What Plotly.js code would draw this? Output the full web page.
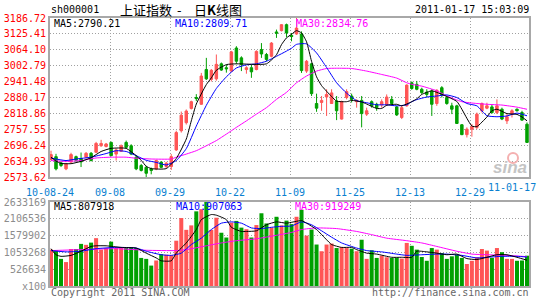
<!DOCTYPE html>
<html><head><meta charset="utf-8">
<script src="https://cdn.plot.ly/plotly-3.0.1.min.js"></script>
<style>html,body{margin:0;padding:0;background:#fff}#chart{width:545px;height:300px}</style>
</head><body><div id="chart"></div><script>
// ---- data (SSE Composite, daily, 2010-08-24 .. 2011-01-17) ----
const openP  = [2641,2652,2628,2605,2631,2652,2645,2650,2665,2669,2694,2691,2707,2662,2673,2707,2694,2650,2618,2611,2605,2605,2631,2614,2614,2678,2752,2783,2838,2880,2854,2988,2950,2952,3010,2995,2982,3071,3033,2988,2995,2988,3065,3046,3039,3133,3138,3161,3120,3125,3125,2982,3010,2857,2861,2882,2857,2867,2797,2880,2886,2864,2869,2816,2864,2854,2852,2852,2873,2844,2803,2848,2937,2931,2912,2901,2905,2857,2918,2880,2848,2848,2775,2737,2758,2765,2829,2839,2844,2822,2835,2790,2816,2835,2822,2777];
const highP  = [2675,2663,2634,2628,2667,2656,2668,2670,2670,2709,2717,2705,2710,2684,2699,2714,2700,2657,2624,2617,2610,2640,2634,2632,2662,2752,2826,2834,2868,2893,2975,3033,2990,3046,3015,3007,3060,3078,3039,3001,3007,3062,3090,3052,3094,3142,3163,3165,3129,3186.72,3135,3025,3014,2895,2886,2912,2912,2886,2868,2912,2895,2873,2886,2841,2869,2860,2873,2892,2886,2848,2848,2931,2942,2944,2918,2912,2912,2912,2924,2886,2860,2852,2778,2765,2778,2822,2861,2860,2852,2873,2841,2816,2835,2838,2829,2784];
const lowP   = [2637,2599,2612,2600,2628,2631,2612,2645,2634,2666,2690,2688,2654,2637,2670,2684,2658,2600,2595,2573.62,2584,2600,2608,2608,2601,2674,2745,2776,2834,2866,2852,2948,2942,2945,2983,2976,2979,3010,2982,2972,2956,2985,3033,3020,3035,3110,3135,3112,3097,3122,2975,2975,2886,2825,2829,2809,2855,2793,2795,2873,2861,2841,2765,2809,2841,2829,2841,2848,2848,2809,2797,2845,2910,2908,2894,2880,2809,2848,2880,2852,2816,2778,2735,2726,2729,2758,2822,2835,2818,2816,2793,2778,2803,2826,2790,2705];
const closeP = [2660,2605,2618,2624,2660,2638,2632,2665,2637,2703,2703,2701,2656,2678,2694,2688,2662,2605,2599,2588,2599,2637,2611,2627,2652,2745,2812,2828,2864,2876,2963,2952,2985,3008,2986,2991,3056,3020,3007,2995,2979,3058,3048,3027,3090,3128,3161,3129,3115,3148,2984,3020,2895,2839,2869,2892,2898,2829,2864,2903,2873,2869,2818,2829,2848,2841,2864,2882,2857,2813,2841,2928,2915,2912,2899,2892,2854,2908,2892,2857,2835,2780,2737,2758,2767,2816,2857,2848,2822,2848,2797,2806,2829,2829,2793,2707];
const volume = [1140000,1110000,850000,750000,1160000,1160000,1320000,1290000,1360000,1500000,1140000,1190000,1390000,1190000,1210000,1190000,1210000,1190000,880000,850000,640000,800000,1000000,980000,960000,1420000,2130000,1760000,1900000,2340000,2410000,2633169,1755000,2140000,1670000,1520000,1985000,2040000,1830000,1780000,1520000,1910000,2280000,1960000,1830000,2170000,1900000,2050000,1940000,2170000,2390000,1580000,1770000,1300000,1090000,1300000,1330000,1190000,1220000,1190000,1170000,1090000,1450000,850000,1120000,880000,950000,900000,880000,880000,860000,1350000,1260000,1140000,910000,790000,1190000,1140000,1030000,850000,930000,980000,880000,690000,790000,900000,1160000,1110000,880000,1190000,1060000,850000,850000,790000,800000,950000];

// moving averages at sample days (day index, value)
const ma5Day  = [0,1,2,4,6,8,10,12,15,17,18,19,20,23,25,27,28,29,31,32,33,35,37,43,45,46,47,48,49,50,51,52,53,54,56,57,59,60,62,63,65,66,67,69,70,72,73,74,76,77,79,81,82,83,84,85,87,88,89,91,93,94,95];
const ma5     = [2650,2635,2626,2625,2634,2648,2672,2684,2684,2656,2638,2615,2606,2606,2645,2720,2790,2855,2930,2956,2985,3007,3010,3010,3045,3084,3110,3124,3138,3129,3095,3020,2960,2926,2884,2866,2864,2869,2863,2855,2838,2838,2850,2854,2848,2864,2875,2892,2906,2900,2884,2865,2835,2800,2770,2768,2805,2829,2835,2818,2815,2805,2790.21];
const ma10Day = [0,1,3,5,8,11,13,15,17,19,21,23,25,27,29,31,33,35,37,39,41,43,45,47,48,49,51,53,55,57,59,61,63,65,67,69,71,72,73,75,77,79,81,83,85,87,89,91,93,95];
const ma10    = [2647,2643,2637,2643,2650,2664,2675,2672,2656,2638,2630,2620,2637,2683,2770,2850,2915,2960,2994,3006,3010,3020,3039,3059,3070,3085,3087,3052,2996,2937,2897,2868,2860,2852,2852,2848,2852,2864,2872,2882,2886,2890,2880,2857,2848,2810,2806,2809,2820,2809.71];
const ma30Day = [0,3,6,9,12,15,17,20,24,25,27,29,31,33,35,37,39,41,43,45,47,49,51,53,55,57,60,63,66,69,71,72,74,77,79,82,85,87,90,93,95];
const ma30    = [2637,2634,2637,2647,2650,2650,2646,2643,2643,2650,2662,2675,2694,2714,2739,2765,2790,2816,2841,2873,2900,2937,2963,2982,2992,2993,2992,2982,2969,2955,2937,2931,2924,2906,2886,2864,2857,2854,2851,2843,2834.76];

const vma5Day  = [0,1,2,4,6,8,9,11,14,17,19,21,22,24,25,27,29,30,32,33,35,36,38,39,41,43,45,47,50,51,53,55,56,58,60,61,63,65,68,70,72,73,75,77,79,81,83,85,87,89,91,93,95];
const vma5     = [1170000,980000,930000,960000,1090000,1240000,1260000,1260000,1210000,1190000,1030000,880000,790000,790000,1030000,1350000,1770000,2080000,2240000,2220000,2080000,1840000,1710000,1710000,1730000,1920000,2010000,1970000,2050000,1970000,1770000,1450000,1300000,1210000,1210000,1140000,1030000,1000000,900000,900000,900000,1090000,1070000,1030000,980000,1000000,860000,830000,900000,980000,980000,900000,807918];
const vma10Day = [0,3,6,9,13,17,19,22,24,26,28,30,32,34,36,38,40,42,44,46,48,50,52,54,56,58,61,63,66,69,71,74,77,79,82,85,87,90,93,95];
const vma10    = [1110000,1070000,1090000,1170000,1210000,1190000,1090000,980000,960000,1030000,1300000,1500000,1770000,1970000,2010000,1970000,1820000,1800000,1840000,1870000,1880000,2010000,1920000,1730000,1530000,1350000,1190000,1110000,1070000,1000000,960000,980000,1000000,1000000,960000,880000,900000,930000,930000,907063];
const vma30Day = [0,6,13,19,25,27,31,34,37,41,45,48,50,53,57,61,64,67,71,74,77,81,84,87,91,95];
const vma30    = [1110000,1140000,1170000,1120000,1110000,1140000,1260000,1350000,1420000,1480000,1590000,1680000,1770000,1820000,1800000,1710000,1610000,1500000,1420000,1350000,1240000,1090000,1000000,980000,960000,919249];

const priceTickText = ['2573.62','2634.93','2696.24','2757.55','2818.86','2880.17','2941.48','3002.79','3064.10','3125.41','3186.72'];
const volTickText   = ['x100','526634','1053268','1579902','2106536','2633169'];
const dateLabels    = ['10-08-24','09-08','09-29','10-22','11-09','11-25','12-13','12-29','11-01-17'];
const maPriceLegend = ['MA5:2790.21','MA10:2809.71','MA30:2834.76'];
const maVolLegend   = ['MA5:807918','MA10:907063','MA30:919249'];

// ---- drawing ----
const RED = '#ff5555', GREEN = '#00a000', MONO = 'DejaVu Sans Mono';
const day = closeP.map((_, i) => i);
const volColors = closeP.map((c, i) => c >= openP[i] ? RED : GREEN);

// pixel geometry of the plot frame
const L = 50, R = 529, T = 18, B = 286;
const X0 = -0.2, X1 = 95.4;
const pxToDay = px => X0 + (px - L) * (X1 - X0) / (R - L);
const PX = px => (px - L) / (R - L);
const PY = py => (B - py) / (B - T);
const gridDays = [50,110,170,230,290,350,410,470].map(pxToDay);

const priceTicks = priceTickText.map(Number);
const volMax = Number(volTickText[volTickText.length-1]);
const volTicks = volTickText.map((t, i) => i === 0 ? 0 : Number(t));

const traces = [
  {type:'candlestick', x:day, open:openP, high:highP, low:lowP, close:closeP,
   xaxis:'x', yaxis:'y', whiskerwidth:0,
   increasing:{line:{color:RED, width:1}, fillcolor:RED},
   decreasing:{line:{color:GREEN, width:1}, fillcolor:GREEN},
   showlegend:false, hoverinfo:'skip'},
  {type:'scatter', mode:'lines', x:ma30Day, y:ma30, xaxis:'x', yaxis:'y', line:{color:'#ff00ff', width:1, shape:'spline', smoothing:0.5}, hoverinfo:'skip'},
  {type:'scatter', mode:'lines', x:ma10Day, y:ma10, xaxis:'x', yaxis:'y', line:{color:'#0000ff', width:1, shape:'spline', smoothing:0.5}, hoverinfo:'skip'},
  {type:'scatter', mode:'lines', x:ma5Day, y:ma5, xaxis:'x', yaxis:'y', line:{color:'#000000', width:1, shape:'spline', smoothing:0.5}, hoverinfo:'skip'},
  {type:'bar', x:day, y:volume, xaxis:'x2', yaxis:'y2', width:0.8, marker:{color:volColors, line:{width:0}}, hoverinfo:'skip'},
  {type:'scatter', mode:'lines', x:vma30Day, y:vma30, xaxis:'x2', yaxis:'y2', line:{color:'#ff00ff', width:1, shape:'spline', smoothing:0.5}, hoverinfo:'skip'},
  {type:'scatter', mode:'lines', x:vma10Day, y:vma10, xaxis:'x2', yaxis:'y2', line:{color:'#0000ff', width:1, shape:'spline', smoothing:0.5}, hoverinfo:'skip'},
  {type:'scatter', mode:'lines', x:vma5Day, y:vma5, xaxis:'x2', yaxis:'y2', line:{color:'#000000', width:1, shape:'spline', smoothing:0.5}, hoverinfo:'skip'}
];

const gridStyle = {showgrid:true, gridcolor:'#a0a0a0', griddash:'1px,2px', gridwidth:1,
  showline:true, mirror:true, linecolor:'#a8a8a8', linewidth:2, zeroline:false, fixedrange:true};

function ann(text, px, py, color, anchor, size, family) {
  return {text:text, x:PX(px), y:PY(py), xref:'paper', yref:'paper', xanchor:anchor||'left', yanchor:'middle',
    showarrow:false, font:{family:family||MONO, size:size||10, color:color}, borderpad:0};
}

const layout = {
  width:545, height:300, margin:{l:L, r:545-R, t:T, b:300-B},
  paper_bgcolor:'#fff', plot_bgcolor:'#fff', showlegend:false, hovermode:false,
  boxgap:0.3,
  xaxis: Object.assign({}, gridStyle, {domain:[0,1], anchor:'y', range:[X0,X1],
    tickmode:'array', tickvals:gridDays, ticktext:dateLabels.slice(0,8),
    ticks:'outside', ticklen:5, tickcolor:'rgba(0,0,0,0)',
    tickfont:{family:MONO, size:10, color:'#0a7fd0'}, rangeslider:{visible:false}}),
  yaxis: Object.assign({}, gridStyle, {domain:[(B-177)/(B-T),1], anchor:'x', range:[priceTicks[0], priceTicks[priceTicks.length-1]],
    tickmode:'array', tickvals:priceTicks, ticktext:priceTickText, ticks:'', 
    tickfont:{family:MONO, size:10, color:'#ff0000'}}),
  xaxis2: Object.assign({}, gridStyle, {domain:[0,1], anchor:'y2', matches:'x', range:[X0,X1],
    tickmode:'array', tickvals:gridDays, showticklabels:false, ticks:'', rangeslider:{visible:false}}),
  yaxis2: Object.assign({}, gridStyle, {domain:[0,(B-202)/(B-T)], anchor:'x2', range:[0, volMax],
    tickmode:'array', tickvals:volTicks, ticktext:volTickText, ticks:'',
    tickfont:{family:MONO, size:10, color:'#8c8c8c'}}),
  annotations: [
    ann('sh000001', 50, 10, '#000'),
    ann('上证指数', 119, 10, '#000', 'left', 13, 'Noto Sans CJK SC'),
    ann('-', 179, 10, '#000', 'center', 13, 'Noto Sans CJK SC'),
    ann('日<b>K</b>线图', 193, 10, '#000', 'left', 13, 'Noto Sans CJK SC'),
    ann('2011-01-17 15:03:09', 530, 10, '#000', 'right'),
    ann(maPriceLegend[0], 53, 24, '#000'),
    ann(maPriceLegend[1], 174, 24, '#0000ff'),
    ann(maPriceLegend[2], 295, 24, '#ff00ff'),
    ann(maVolLegend[0], 53, 206, '#000'),
    ann(maVolLegend[1], 175, 206, '#0000ff'),
    ann(maVolLegend[2], 294, 206, '#ff00ff'),
    ann(dateLabels[8], 537, 188, '#0a7fd0', 'right'),
    ann('Copyright 2011 SINA.COM', 50, 292, '#666'),
    ann('http://finance.sina.com.cn', 530, 292, '#666', 'right'),
    ann('<i><b>sina</b></i>', 528, 167, '#c4c4c4', 'right', 17, 'Liberation Sans')
  ],
  shapes: [
    {type:'circle', xref:'paper', yref:'paper', x0:PX(508), x1:PX(518), y0:PY(163), y1:PY(153),
     line:{color:'#f4b0b0', width:2}, fillcolor:'rgba(0,0,0,0)'}
  ]
};

Plotly.newPlot('chart', traces, layout, {staticPlot:true, displayModeBar:false});
</script></body></html>
